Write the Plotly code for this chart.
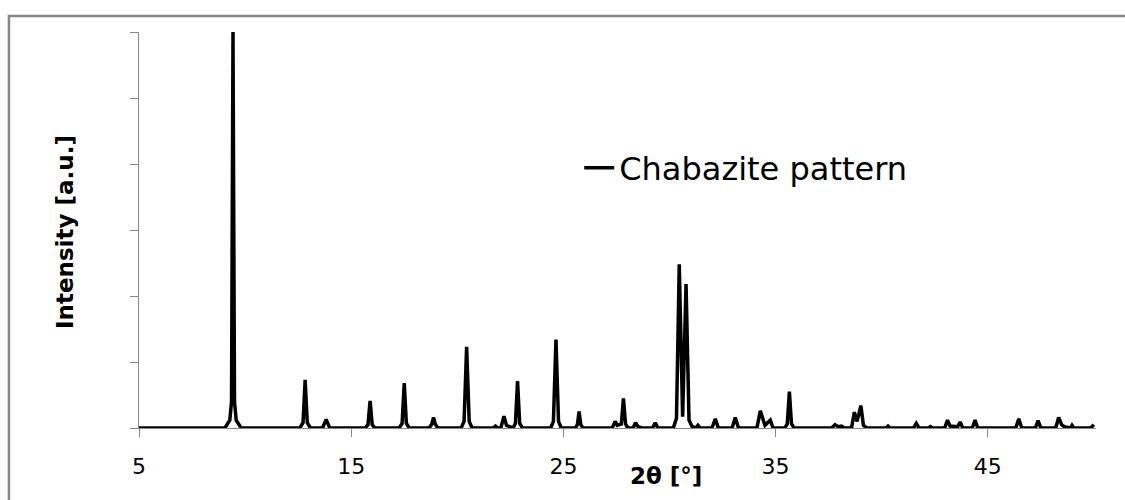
import plotly.graph_objects as go

# Powder diffraction pattern of chabazite (2θ in degrees, intensity in arbitrary units)
two_theta = [
    5.00,
    9.05, 9.28, 9.36, 9.43, 9.50, 9.58, 9.81,
    12.58, 12.73, 12.83, 12.93, 13.08,
    13.65, 13.82, 13.99,
    15.66, 15.79, 15.89, 15.99, 16.12,
    17.26, 17.40, 17.50, 17.60, 17.74,
    18.68, 18.80, 18.88, 18.96, 19.08,
    20.18, 20.32, 20.44, 20.56, 20.70,
    21.70, 21.80, 21.90,
    22.05, 22.20, 22.32,
    22.63, 22.74, 22.84, 22.94, 23.07,
    24.40, 24.53, 24.65, 24.77, 24.90,
    25.56, 25.66, 25.74, 25.82, 25.92,
    27.30, 27.44, 27.54,
    27.73, 27.83, 27.93, 28.04,
    28.28, 28.40, 28.52, 28.70,
    29.20, 29.33, 29.46,
    30.18, 30.33, 30.46, 30.62, 30.78, 30.92, 31.07,
    31.25, 31.34, 31.45,
    32.00, 32.16, 32.30,
    32.95, 33.10, 33.25,
    34.12, 34.28, 34.50, 34.75, 34.88,
    35.43, 35.55, 35.65, 35.75, 35.88,
    37.65, 37.80, 37.95, 38.10, 38.25,
    38.58, 38.71, 38.84, 39.02, 39.14, 39.30,
    40.20, 40.30, 40.40,
    41.50, 41.63, 41.76,
    42.20, 42.30, 42.40,
    42.97, 43.10, 43.22,
    43.58, 43.70, 43.82,
    44.27, 44.40, 44.53,
    46.32, 46.46, 46.60,
    47.24, 47.37, 47.50,
    48.20, 48.34, 48.48, 48.60,
    48.90, 48.97, 49.05,
    49.85, 50.00,
]
intensity = [
    0.00,
    0.00, 0.12, 0.40, 6.00, 0.40, 0.12, 0.00,
    0.00, 0.08, 0.73, 0.08, 0.00,
    0.00, 0.13, 0.00,
    0.00, 0.05, 0.41, 0.05, 0.00,
    0.00, 0.07, 0.68, 0.07, 0.00,
    0.00, 0.06, 0.16, 0.06, 0.00,
    0.00, 0.10, 1.23, 0.10, 0.00,
    0.00, 0.03, 0.00,
    0.00, 0.18, 0.04,
    0.00, 0.07, 0.71, 0.07, 0.00,
    0.00, 0.10, 1.34, 0.10, 0.00,
    0.00, 0.05, 0.25, 0.05, 0.00,
    0.00, 0.10, 0.04,
    0.06, 0.45, 0.06, 0.00,
    0.00, 0.08, 0.02, 0.00,
    0.00, 0.08, 0.00,
    0.00, 0.15, 2.48, 0.17, 2.18, 0.12, 0.02,
    0.00, 0.04, 0.00,
    0.00, 0.14, 0.00,
    0.00, 0.16, 0.00,
    0.00, 0.26, 0.04, 0.12, 0.00,
    0.00, 0.06, 0.55, 0.06, 0.00,
    0.00, 0.05, 0.02, 0.03, 0.00,
    0.00, 0.24, 0.10, 0.34, 0.04, 0.00,
    0.00, 0.03, 0.00,
    0.00, 0.07, 0.00,
    0.00, 0.02, 0.00,
    0.00, 0.12, 0.03,
    0.02, 0.09, 0.00,
    0.00, 0.12, 0.00,
    0.00, 0.14, 0.00,
    0.00, 0.11, 0.00,
    0.00, 0.16, 0.05, 0.02,
    0.00, 0.04, 0.00,
    0.00, 0.05,
]

x_ticks = [5, 15, 25, 35, 45]
y_ticks = [0, 1, 2, 3, 4, 5, 6]

AXIS_GREY = "#868686"
FONT = "DejaVu Sans"

fig = go.Figure(
    go.Scatter(
        x=two_theta,
        y=intensity,
        mode="lines",
        name="Chabazite pattern",
        line=dict(color="black", width=3.5),
        cliponaxis=False,
    )
)

fig.update_layout(
    width=1125,
    height=500,
    autosize=False,
    margin=dict(l=139, r=29, t=32, b=72, pad=0),
    paper_bgcolor="white",
    plot_bgcolor="white",
    font=dict(family=FONT, color="black"),
    showlegend=True,
    legend=dict(
        x=0.460,
        y=0.657,
        xanchor="left",
        yanchor="middle",
        bgcolor="rgba(0,0,0,0)",
        font=dict(family=FONT, size=32, color="black"),
    ),
    xaxis=dict(
        range=[5, 50.1],
        tickvals=x_ticks,
        ticktext=[str(v) for v in x_ticks],
        ticks="outside",
        ticklen=8,
        tickcolor=AXIS_GREY,
        tickwidth=1,
        showline=True,
        linecolor=AXIS_GREY,
        linewidth=1,
        showgrid=False,
        zeroline=False,
        tickfont=dict(family=FONT, size=22, color="black"),
        ticklabelstandoff=11,
    ),
    yaxis=dict(
        range=[0, 6],
        tickvals=y_ticks,
        showticklabels=False,
        ticks="outside",
        ticklen=8,
        tickcolor=AXIS_GREY,
        tickwidth=1,
        showline=True,
        linecolor=AXIS_GREY,
        linewidth=1,
        showgrid=False,
        zeroline=False,
    ),
    annotations=[
        dict(
            text="<b>2θ [°]</b>",
            xref="paper", yref="paper",
            x=(666 - 139) / 956.6, y=(428 - 476) / 396,
            xanchor="center", yanchor="middle",
            showarrow=False,
            font=dict(family=FONT, size=23, color="black"),
        ),
        dict(
            text="<b>Intensity [a.u.]</b>",
            xref="paper", yref="paper",
            x=(65 - 139) / 956.6, y=(428 - 232) / 396,
            xanchor="center", yanchor="middle",
            textangle=-90,
            showarrow=False,
            font=dict(family=FONT, size=23, color="black"),
        ),
    ],
    shapes=[
        # outer chart border
        dict(
            type="rect",
            xref="paper", yref="paper",
            x0=(9 - 139) / 956.6, x1=1.06,
            y0=-0.3, y1=(428 - 16) / 396,
            line=dict(color="#878787", width=2.5),
            fillcolor="rgba(0,0,0,0)",
            layer="below",
        ),
    ],
)

fig.write_html("out.html")
